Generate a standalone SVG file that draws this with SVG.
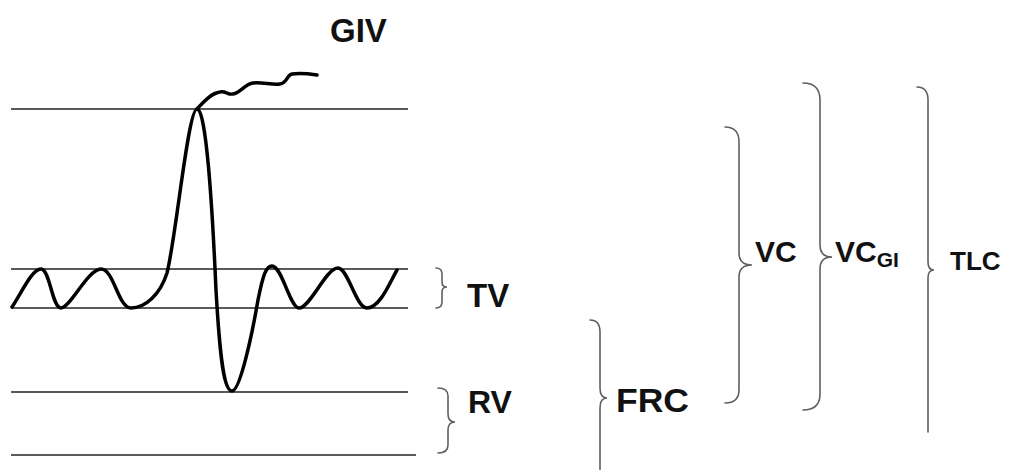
<svg xmlns="http://www.w3.org/2000/svg" width="1009" height="470" viewBox="0 0 1009 470">
<style>
.lvl{stroke:#5a5a5a;stroke-width:2;fill:none}
.br{stroke:#606060;stroke-width:1.6;fill:none;stroke-linecap:round}
.wave{stroke:#000;stroke-width:3.5;fill:none;stroke-linejoin:round;stroke-linecap:round}
.lbl{font-family:"Liberation Sans",Arial,sans-serif;font-weight:bold;fill:#111}
</style>
<rect width="1009" height="470" fill="#fff"/>
<g id="levels">
<line class="lvl" x1="11" y1="109" x2="408" y2="109"/>
<line class="lvl" x1="11" y1="269" x2="408" y2="269"/>
<line class="lvl" x1="11" y1="308" x2="408" y2="308"/>
<line class="lvl" x1="11" y1="392" x2="408" y2="392"/>
<line class="lvl" x1="11" y1="455" x2="416" y2="455"/>
</g>
<g id="trace">
<path class="wave" d="M12,307 C22,292 32,269 41,269 C50,269 52,308 61,308 C70,308 88,269 101,269 C114,269 118,308 131,308 C145,308 160,295 167,273 C176,238 188,109 197,109 C206,109 212,200 216,290 C220,360 224,391 232,391 C240,391 252,335 258,300 C263,275 266,266 272,266 C282,266 290,308 299,308 C310,308 326,268 338,268 C348,268 356,308 367,308 C380,308 390,282 397,270"/>
<path class="wave" d="M197,109 C205,100 212,93 220,92 C226,91 228,95 233,94 C240,93 245,84 253,83 C262,82 272,85 280,84 C287,83 287,75 292,74 C300,73 310,74 317,75"/>
</g>
<g id="GIV"><text class="lbl" x="330" y="42" font-size="33">GIV</text></g>
<g id="TV">
<path class="br" d="M436,268 Q442,268 442,274 L442,282 Q442,287 447,287 Q442,287 442,292 L442,302 Q442,308 436,308"/>
<text class="lbl" x="467" y="307" font-size="33">TV</text>
</g>
<g id="RV">
<path class="br" d="M438,388 Q448,388 448,396 L448,414 Q448,422 455,422 Q448,422 448,430 L448,445 Q448,453 438,453"/>
<text class="lbl" x="468" y="413" font-size="32">RV</text>
</g>
<g id="FRC">
<path class="br" d="M590,320 Q600,320 600,332 L600,388 Q600,398 607,398 Q600,398 600,408 L600,470"/>
<text class="lbl" x="616" y="412" font-size="34" textLength="73" lengthAdjust="spacingAndGlyphs">FRC</text>
</g>
<g id="VC">
<path class="br" d="M725,127 Q739,127 739,142 L739,253 Q739,265 752,265 Q739,265 739,277 L739,390 Q739,403 725,403"/>
<text class="lbl" x="755" y="262" font-size="30">VC</text>
</g>
<g id="VCGI">
<path class="br" d="M803,83 Q820,83 820,100 L820,245 Q820,257 832,257 Q820,257 820,269 L820,394 Q820,410 803,410"/>
<text class="lbl" x="835" y="262" font-size="30">VC<tspan font-size="21" dy="5">GI</tspan></text>
</g>
<g id="TLC">
<path class="br" d="M917,87 Q928,87 928,100 L928,262 Q928,270 934,270 Q928,270 928,278 L928,432"/>
<text class="lbl" x="950" y="270" font-size="26">TLC</text>
</g>
</svg>
